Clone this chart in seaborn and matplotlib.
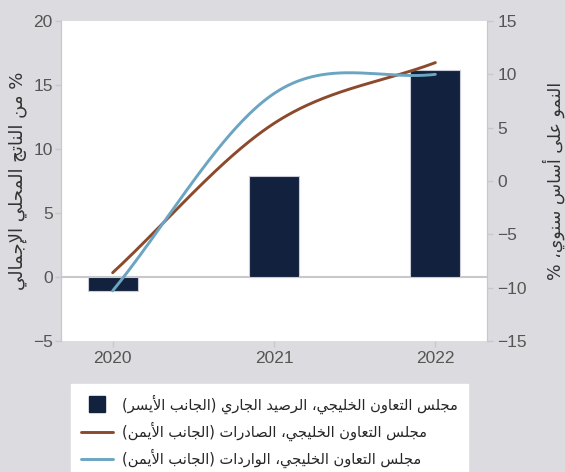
# GCC: current account (left axis) vs exports/imports growth (right axis)

import numpy as np
import matplotlib
matplotlib.use("Agg")
import matplotlib.pyplot as plt
from matplotlib.lines import Line2D
import seaborn as sns

years = ["2020", "2021", "2022"]
current_account = [-1.1, 7.9, 16.2]    # % of GDP, left axis
exports_growth = [-8.6, 5.4, 11.1]     # y/y %, right axis
imports_growth = [-10.3, 8.2, 10.0]    # y/y %, right axis

label_left = "% من الناتج المحلي الإجمالي"
label_right = "النمو على أساس سنوي، %"
legend_labels = [
    "مجلس التعاون الخليجي، الرصيد الجاري (الجانب الأيسر)",
    "مجلس التعاون الخليجي، الصادرات (الجانب الأيمن)",
    "مجلس التعاون الخليجي، الواردات (الجانب الأيمن)",
]

NAVY = "#12213d"
BROWN = "#8c4a2c"
BLUE = "#6ba5c1"
BG = "#dcdce0"
GREY_TXT = "#555555"
GREY_LN = "#c8c8cc"

# matplotlib has no arabic shaping, so do it by hand with presentation forms
# (isolated, final, initial, medial)
FORMS = {
    "\u0627": (0xFE8D, 0xFE8E, None, None),
    "\u0623": (0xFE83, 0xFE84, None, None),
    "\u0625": (0xFE87, 0xFE88, None, None),
    "\u0628": (0xFE8F, 0xFE90, 0xFE91, 0xFE92),
    "\u062A": (0xFE95, 0xFE96, 0xFE97, 0xFE98),
    "\u062C": (0xFE9D, 0xFE9E, 0xFE9F, 0xFEA0),
    "\u062D": (0xFEA1, 0xFEA2, 0xFEA3, 0xFEA4),
    "\u062E": (0xFEA5, 0xFEA6, 0xFEA7, 0xFEA8),
    "\u062F": (0xFEA9, 0xFEAA, None, None),
    "\u0631": (0xFEAD, 0xFEAE, None, None),
    "\u0633": (0xFEB1, 0xFEB2, 0xFEB3, 0xFEB4),
    "\u0635": (0xFEB9, 0xFEBA, 0xFEBB, 0xFEBC),
    "\u0639": (0xFEC9, 0xFECA, 0xFECB, 0xFECC),
    "\u0644": (0xFEDD, 0xFEDE, 0xFEDF, 0xFEE0),
    "\u0645": (0xFEE1, 0xFEE2, 0xFEE3, 0xFEE4),
    "\u0646": (0xFEE5, 0xFEE6, 0xFEE7, 0xFEE8),
    "\u0648": (0xFEED, 0xFEEE, None, None),
    "\u0649": (0xFEEF, 0xFEF0, None, None),
    "\u064A": (0xFEF1, 0xFEF2, 0xFEF3, 0xFEF4),
}
LAM_ALEF = {"\u0627": (0xFEFB, 0xFEFC), "\u0623": (0xFEF7, 0xFEF8),
            "\u0625": (0xFEF9, 0xFEFA)}


def joins_fwd(c):
    return c in FORMS and FORMS[c][2] is not None


def shape(text):
    out = []
    i, n = 0, len(text)
    while i < n:
        c = text[i]
        if c not in FORMS:
            out.append(c)
            i += 1
            continue
        jp = i > 0 and joins_fwd(text[i - 1])
        if c == "\u0644" and i + 1 < n and text[i + 1] in LAM_ALEF:
            iso, fin = LAM_ALEF[text[i + 1]]
            out.append(chr(fin if jp else iso))
            i += 2
            continue
        jn = joins_fwd(c) and i + 1 < n and text[i + 1] in FORMS
        iso, fin, ini, med = FORMS[c]
        if jp and jn:
            g = med
        elif jp:
            g = fin
        elif jn:
            g = ini
        else:
            g = iso
        out.append(chr(g))
        i += 1
    vis = "".join(reversed(out))
    return vis.translate(str.maketrans("()", ")("))


def smooth(y, num=200):
    # hermite curve through the points, like the "smoothed line" option
    y = np.asarray(y, dtype=float)
    x = np.arange(len(y), dtype=float)
    m = np.gradient(y, x)
    xs = np.linspace(x[0], x[-1], num)
    k = np.minimum(np.floor(xs).astype(int), len(y) - 2)
    t = xs - k
    h00 = 2 * t**3 - 3 * t**2 + 1
    h10 = t**3 - 2 * t**2 + t
    h01 = -2 * t**3 + 3 * t**2
    h11 = t**3 - t**2
    ys = h00 * y[k] + h10 * m[k] + h01 * y[k + 1] + h11 * m[k + 1]
    return xs, ys


sns.set_style("white")
plt.rcParams["font.family"] = ["Liberation Sans", "DejaVu Sans"]

fig = plt.figure(figsize=(5.65, 4.72), dpi=100, facecolor=BG)
ax = fig.add_axes([61 / 565, 1 - 341 / 472, 426 / 565, 320 / 472])
ax.set_facecolor("white")

sns.barplot(x=years, y=current_account, color=NAVY, saturation=1, width=0.31,
            edgecolor="#c9ccd6", linewidth=0.8, ax=ax, zorder=2)
ax.axhline(0, color=GREY_LN, lw=1.5, zorder=1)
ax.set_xlim(-0.32, 2.32)
ax.set_ylim(-5, 20)
ax.set_yticks(range(-5, 21, 5))
ax.set_ylabel(shape(label_left), family="DejaVu Sans", fontsize=13,
              color="#333333", labelpad=4)
ax.set_xlabel("")

ax2 = ax.twinx()
xs, ys = smooth(exports_growth)
sns.lineplot(x=xs, y=ys, color=BROWN, lw=2.1, ax=ax2)
xs, ys = smooth(imports_growth)
sns.lineplot(x=xs, y=ys, color=BLUE, lw=2.1, ax=ax2)
ax2.set_ylim(-15, 15)
ax2.set_yticks(range(-15, 16, 5))
ax2.set_ylabel(shape(label_right), family="DejaVu Sans", fontsize=12.5,
               color="#333333", rotation=90, labelpad=11)
ax2.yaxis.set_label_position("right")

for a in (ax, ax2):
    for side in ("top", "bottom"):
        a.spines[side].set_visible(False)
    a.spines["left"].set_color(GREY_LN)
    a.spines["right"].set_color(GREY_LN)
    a.tick_params(axis="both", which="both", length=4, width=1, color=GREY_LN,
                  labelsize=12.5, labelcolor=GREY_TXT, direction="out")
ax.tick_params(axis="y", left=True, pad=2)
ax.tick_params(axis="x", bottom=True, pad=3)
ax2.tick_params(axis="y", right=True)
ax.set_yticklabels([str(v).replace("-", "\u2212") for v in range(-5, 21, 5)])
ax2.set_yticklabels([str(v).replace("-", "\u2212") for v in range(-15, 16, 5)])

handles = [
    Line2D([], [], marker="s", linestyle="none", markersize=11, color=NAVY),
    Line2D([], [], color=BROWN, lw=2.1),
    Line2D([], [], color=BLUE, lw=2.1),
]
leg = fig.legend(handles, [shape(s) for s in legend_labels],
                 loc="upper left", bbox_to_anchor=(71 / 565, 1 - 384 / 472),
                 frameon=True, fancybox=False, framealpha=1,
                 prop={"family": "DejaVu Sans", "size": 10.5},
                 handlelength=2.2, handletextpad=0.6, labelspacing=0.55,
                 borderpad=0.7, borderaxespad=0)
leg.get_frame().set_edgecolor("white")
leg.get_frame().set_facecolor("white")

fig.savefig("out.png", dpi=100, facecolor=BG)
